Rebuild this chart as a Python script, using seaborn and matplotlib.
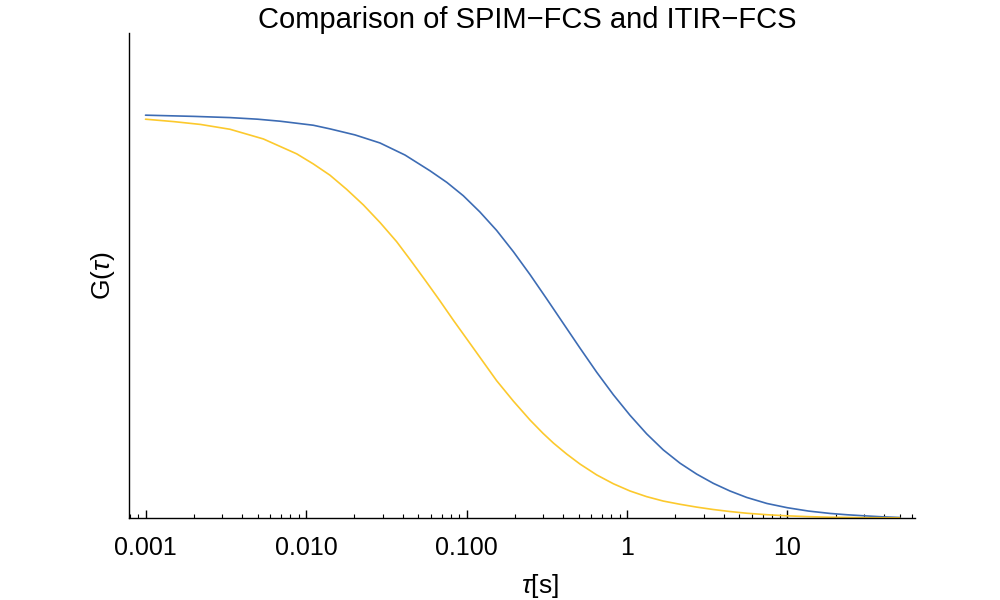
import numpy as np
import pandas as pd
import matplotlib
matplotlib.use("Agg")
import matplotlib.pyplot as plt
import seaborn as sns
from matplotlib.ticker import LogLocator, NullFormatter

# ---- data (tau in seconds, G normalised) ----
tau_spim = [0.001, 0.002, 0.00336, 0.005, 0.0069, 0.0111, 0.0141, 0.0202,
            0.0289, 0.0414, 0.0592, 0.0755, 0.0955, 0.121, 0.154, 0.196,
            0.249, 0.316, 0.401, 0.509, 0.647, 0.822, 1.044, 1.325, 1.683,
            2.14, 2.716, 3.45, 4.38, 5.57, 7.45, 9.97, 13.5, 18.4, 23.5,
            29.7, 38.5, 50.0]
g_spim = [1.000, 0.997, 0.994, 0.990, 0.985, 0.975, 0.966, 0.951,
          0.931, 0.901, 0.862, 0.833, 0.800, 0.760, 0.714, 0.661,
          0.604, 0.544, 0.483, 0.422, 0.362, 0.306, 0.255, 0.209, 0.169,
          0.136, 0.109, 0.086, 0.067, 0.051, 0.036, 0.0255, 0.0172, 0.0113,
          0.0080, 0.0055, 0.0030, 0.0012]

tau_itir = [0.001, 0.0015, 0.0022, 0.00336, 0.00542, 0.00875, 0.0111, 0.0141,
            0.0179, 0.0228, 0.029, 0.0367, 0.045, 0.0551, 0.0675, 0.0828,
            0.104, 0.13, 0.154, 0.196, 0.249, 0.30, 0.348, 0.42, 0.509,
            0.647, 0.822, 1.044, 1.325, 1.683, 2.14, 2.716, 3.45, 4.38, 5.57,
            7.45, 9.97, 13.5, 18.4, 29.7, 50.0]
g_itir = [0.990, 0.984, 0.977, 0.965, 0.941, 0.904, 0.879, 0.851,
          0.816, 0.777, 0.733, 0.686, 0.639, 0.591, 0.542, 0.491,
          0.436, 0.382, 0.341, 0.290, 0.243, 0.210, 0.186, 0.159, 0.134,
          0.107, 0.085, 0.067, 0.053, 0.042, 0.034, 0.027, 0.021, 0.016,
          0.0118, 0.0081, 0.0053, 0.0033, 0.0019, 0.0008, 0.0003]

major_ticks = [0.001, 0.01, 0.1, 1, 10]
major_labels = ["0.001", "0.010", "0.100", "1", "10"]
series_names = ["SPIM-FCS", "ITIR-FCS"]
colors = ["#3D6CB4", "#FCC92D"]

df = pd.concat([
    pd.DataFrame({"tau": tau_spim, "G": g_spim, "series": series_names[0]}),
    pd.DataFrame({"tau": tau_itir, "G": g_itir, "series": series_names[1]}),
], ignore_index=True)

sns.set_style("white")
plt.rcParams["font.family"] = ["Liberation Sans", "DejaVu Sans"]
plt.rcParams["mathtext.fontset"] = "custom"
plt.rcParams["mathtext.it"] = "Liberation Sans:italic"
plt.rcParams["mathtext.rm"] = "Liberation Sans"
plt.rcParams["text.color"] = "black"
plt.rcParams["axes.labelcolor"] = "black"
plt.rcParams["xtick.color"] = "black"
plt.rcParams["ytick.color"] = "black"
plt.rcParams["xtick.direction"] = "in"
plt.rcParams["xtick.bottom"] = True

fig = plt.figure(figsize=(10, 6), dpi=100)
ax = fig.add_axes([0.129, 0.1367, 0.786, 0.8083])

sns.lineplot(data=df, x="tau", y="G", hue="series", palette=colors,
             hue_order=series_names, estimator=None, sort=True,
             linewidth=1.2, legend=False, ax=ax)

ax.set_xscale("log")
ax.set_xlim(7.89e-4, 62.3)
ax.set_ylim(0, 1.204)

for s in ["top", "right"]:
    ax.spines[s].set_visible(False)
for s in ["left", "bottom"]:
    ax.spines[s].set_color("black")
    ax.spines[s].set_linewidth(1.0)

ax.set_yticks([])
ax.set_xticks(major_ticks)
ax.set_xticklabels(major_labels)
ax.xaxis.set_minor_locator(LogLocator(base=10, subs=np.arange(2, 10), numticks=30))
ax.xaxis.set_minor_formatter(NullFormatter())
ax.tick_params(axis="x", which="major", bottom=True, direction="in",
               length=5.8, width=1.0, labelsize=18, pad=13, color="black",
               labelcolor="black")
ax.tick_params(axis="x", which="minor", bottom=True, direction="in",
               length=3.2, width=0.8, color="black")

ax.set_xlabel(r"$\tau$[s]", fontsize=19, color="black")
ax.xaxis.set_label_coords(0.523, -0.111)
ax.set_ylabel(r"G($\tau$)", fontsize=19, color="black")
ax.yaxis.set_label_coords(-0.0153, 0.5)

fig.text(0.527, 1 - 28 / 600, "Comparison of SPIM\u2212FCS and ITIR\u2212FCS",
         ha="center", va="baseline", fontsize=21, color="black")

fig.savefig("out.png", dpi=100)
